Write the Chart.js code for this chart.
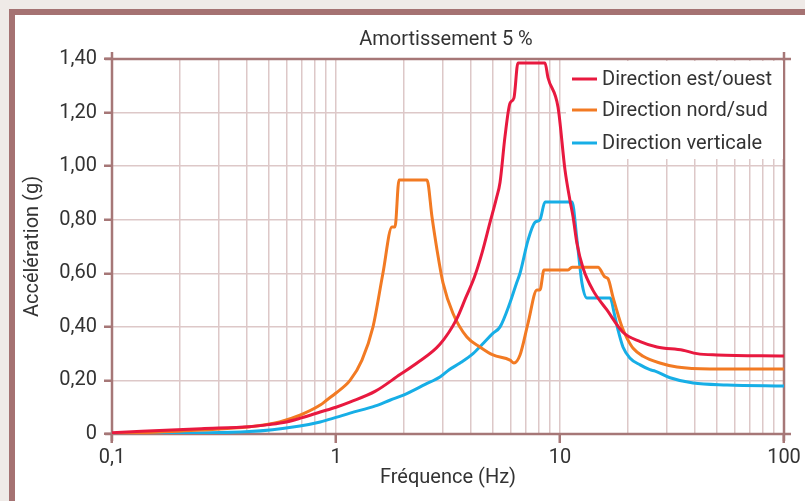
<!DOCTYPE html>
<html>
<head>
<meta charset="utf-8">
<script src="https://cdn.jsdelivr.net/npm/chart.js@4/dist/chart.umd.min.js"></script>
<style>
  html, body { margin: 0; padding: 0; background: #efeae7; }
  #spectre { display: block; }
</style>
</head>
<body>
<canvas id="spectre" width="805" height="501"></canvas>
<script>
// spectres de réponse, amortissement 5 %
var freqEstOuest = [0.1, 0.25, 0.41, 0.5, 0.6, 0.7, 0.85, 1.0, 1.16, 1.5, 1.93, 2.3, 2.91, 3.46, 3.8, 4.15, 4.5, 4.87, 5.2, 5.4, 5.68, 5.98, 6.23, 6.49, 8.57, 8.84, 9.8, 10.53, 11.09, 11.44, 11.91, 12.67, 14.0, 16.2, 19.1, 22.8, 27.1, 35.4, 40.9, 50.2, 100];
var accEstOuest = [0.005, 0.02, 0.027, 0.035, 0.045, 0.06, 0.082, 0.1, 0.12, 0.16, 0.222, 0.265, 0.335, 0.43, 0.51, 0.586, 0.68, 0.79, 0.88, 0.94, 1.11, 1.235, 1.255, 1.385, 1.385, 1.33, 1.22, 0.985, 0.87, 0.81, 0.71, 0.62, 0.538, 0.463, 0.38, 0.345, 0.325, 0.313, 0.30, 0.295, 0.291];

var freqNordSud = [0.1, 0.25, 0.41, 0.56, 0.69, 0.85, 0.91, 1.0, 1.155, 1.306, 1.463, 1.62, 1.778, 1.834, 1.911, 2.548, 2.683, 2.825, 3.004, 3.33, 3.84, 4.39, 5.02, 5.98, 6.23, 6.63, 7.2, 7.89, 8.14, 8.48, 10.86, 11.32, 14.78, 15.88, 16.38, 17.25, 18.9, 19.9, 21.2, 23.5, 27.9, 33.3, 46.7, 100];
var accNordSud = [0.0, 0.015, 0.027, 0.045, 0.07, 0.108, 0.127, 0.153, 0.2, 0.276, 0.40, 0.60, 0.773, 0.773, 0.948, 0.948, 0.81, 0.687, 0.564, 0.45, 0.362, 0.325, 0.295, 0.276, 0.265, 0.295, 0.414, 0.538, 0.538, 0.612, 0.612, 0.623, 0.623, 0.586, 0.58, 0.51, 0.40, 0.358, 0.32, 0.29, 0.265, 0.25, 0.243, 0.243];

var freqVerticale = [0.1, 0.41, 0.69, 0.85, 1.0, 1.155, 1.5, 1.75, 2.0, 2.5, 2.91, 3.2, 3.58, 4.09, 4.5, 5.0, 5.4, 5.98, 6.4, 6.63, 7.2, 7.73, 8.14, 8.57, 11.32, 11.91, 12.53, 13.2, 16.72, 17.6, 18.16, 19.1, 20.5, 22.8, 25.2, 26.6, 31.0, 39.3, 55.7, 100];
var accVerticale = [0.0, 0.009, 0.03, 0.045, 0.062, 0.078, 0.105, 0.127, 0.145, 0.185, 0.213, 0.24, 0.265, 0.30, 0.335, 0.375, 0.40, 0.49, 0.564, 0.60, 0.724, 0.79, 0.80, 0.866, 0.866, 0.724, 0.564, 0.508, 0.508, 0.437, 0.388, 0.325, 0.284, 0.258, 0.24, 0.235, 0.21, 0.19, 0.183, 0.179];

var seriesNames = ['Direction est/ouest', 'Direction nord/sud', 'Direction verticale'];
var seriesColors = ['#e8193f', '#f27a23', '#17aee6'];

var xTickValues = [0.1, 1, 10, 100];
var xTickLabels = ['0,1', '1', '10', '100'];
var yTickLabels = ['0', '0,20', '0,40', '0,60', '0,80', '1,00', '1,20', '1,40'];

var fontName = 'Roboto';
var textColor = '#333333';
var axisColor = '#a67777';
var gridColor = '#ddc8c8';

function toPoints(xs, ys) {
    return xs.map(function (x, i) { return { x: x, y: ys[i] }; });
}

// cadre de la page + boite du graphe
var cadre = {
    id: 'cadre',
    beforeDraw: function (chart) {
        var ctx = chart.ctx;
        ctx.save();
        ctx.fillStyle = '#efeae7';
        ctx.fillRect(0, 0, chart.width, chart.height);
        ctx.fillStyle = '#ffffff';
        ctx.fillRect(12, 12, chart.width, chart.height);
        ctx.fillStyle = '#a57272';
        ctx.fillRect(9, 9, chart.width, 6);
        ctx.fillRect(9, 9, 6, chart.height);
        // titre
        ctx.fillStyle = textColor;
        ctx.font = '20px ' + fontName;
        ctx.textAlign = 'center';
        ctx.textBaseline = 'middle';
        ctx.fillText('Amortissement 5 %', (chart.chartArea.left + chart.chartArea.right) / 2 - 2, 40);
        ctx.restore();
    },
    beforeDatasetsDraw: function (chart) {
        var a = chart.chartArea, ctx = chart.ctx, e = 7;
        ctx.save();
        ctx.strokeStyle = axisColor;
        ctx.lineWidth = 2.5;
        ctx.beginPath();
        ctx.moveTo(a.left - e, a.top); ctx.lineTo(a.right + e, a.top);
        ctx.moveTo(a.left - e, a.bottom); ctx.lineTo(a.right + e, a.bottom);
        ctx.moveTo(a.left, a.top - e); ctx.lineTo(a.left, a.bottom + e);
        ctx.moveTo(a.right, a.top - e); ctx.lineTo(a.right, a.bottom + e);
        ctx.stroke();
        ctx.restore();
    },
    afterDatasetsDraw: function (chart) {
        var ctx = chart.ctx;
        var rows = [79, 110, 143];
        ctx.save();
        ctx.fillStyle = '#ffffff';
        ctx.fillRect(566, 61, chart.chartArea.right - 567, 98);
        ctx.font = '20px ' + fontName;
        ctx.textAlign = 'left';
        ctx.textBaseline = 'middle';
        chart.data.datasets.forEach(function (ds, i) {
            ctx.strokeStyle = ds.borderColor;
            ctx.lineWidth = 3;
            ctx.beginPath();
            ctx.moveTo(572, rows[i]);
            ctx.lineTo(597, rows[i]);
            ctx.stroke();
            ctx.fillStyle = textColor;
            ctx.fillText(ds.label, 602, rows[i] + 1);
        });
        ctx.restore();
    }
};

var spectre = new Chart(document.getElementById('spectre'), {
    type: 'line',
    data: {
        datasets: [
            { label: seriesNames[0], data: toPoints(freqEstOuest, accEstOuest), borderColor: seriesColors[0] },
            { label: seriesNames[1], data: toPoints(freqNordSud, accNordSud), borderColor: seriesColors[1] },
            { label: seriesNames[2], data: toPoints(freqVerticale, accVerticale), borderColor: seriesColors[2] }
        ]
    },
    options: {
        responsive: false,
        animation: false,
        devicePixelRatio: 1,
        layout: { padding: { top: 59, right: 21, left: 0, bottom: 0 } },
        elements: {
            line: { borderWidth: 3, cubicInterpolationMode: 'monotone', fill: false, borderJoinStyle: 'round' },
            point: { radius: 0 }
        },
        plugins: {
            legend: { display: false },
            tooltip: { enabled: false }
        },
        scales: {
            x: {
                type: 'logarithmic',
                min: 0.1,
                max: 100,
                afterFit: function (scale) { scale.height = 67; },
                afterBuildTicks: function (scale) {
                    var t = [];
                    for (var d = 0.1; d < 100; d *= 10) {
                        for (var k = 1; k < 10; k++) t.push({ value: +(k * d).toPrecision(3) });
                    }
                    t.push({ value: 100 });
                    scale.ticks = t;
                },
                border: { display: false },
                grid: {
                    color: gridColor,
                    lineWidth: 1.5,
                    tickLength: 9,
                    tickColor: function (c) {
                        return c.tick && xTickValues.indexOf(c.tick.value) >= 0 ? axisColor : 'rgba(0,0,0,0)';
                    },
                    tickWidth: 2.5
                },
                ticks: {
                    autoSkip: false,
                    maxRotation: 0,
                    padding: 3,
                    color: textColor,
                    font: { family: fontName, size: 20 },
                    callback: function (v) {
                        var i = xTickValues.indexOf(+(+v).toPrecision(3));
                        return i >= 0 ? xTickLabels[i] : '';
                    }
                },
                title: {
                    display: true,
                    text: 'Fréquence (Hz)',
                    color: textColor,
                    font: { family: fontName, size: 20 },
                    padding: { top: 0, bottom: 11 }
                }
            },
            y: {
                min: 0,
                max: 1.4,
                afterFit: function (scale) { scale.width = 112; },
                border: { display: false },
                grid: {
                    color: gridColor,
                    lineWidth: 1.5,
                    tickLength: 8,
                    tickColor: axisColor,
                    tickWidth: 2.5
                },
                ticks: {
                    stepSize: 0.2,
                    padding: 7,
                    color: textColor,
                    font: { family: fontName, size: 20 },
                    callback: function (v) { return yTickLabels[Math.round(v / 0.2)]; }
                },
                title: {
                    display: true,
                    text: 'Accélération (g)',
                    color: textColor,
                    font: { family: fontName, size: 20 },
                    padding: { top: 21, bottom: 0 }
                }
            }
        }
    },
    plugins: [cadre]
});
</script>
</body>
</html>
